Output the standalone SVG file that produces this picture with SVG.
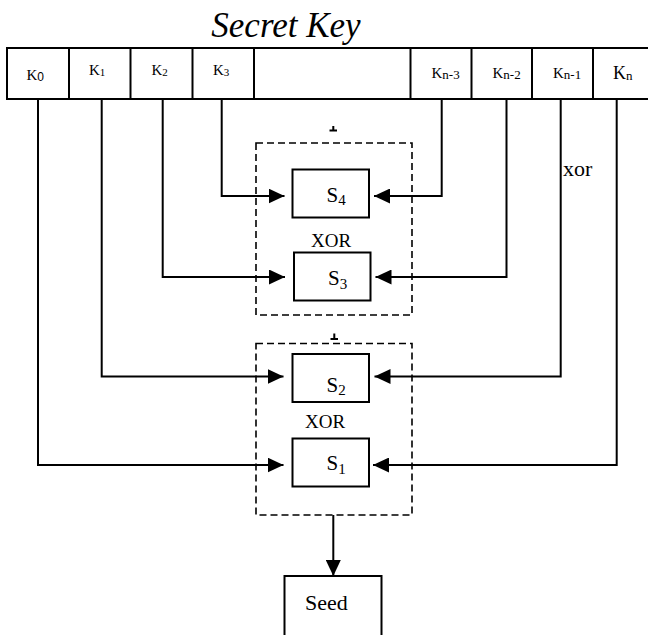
<svg xmlns="http://www.w3.org/2000/svg" width="648" height="635" viewBox="0 0 648 635">
  <style>
    text { font-family: "Liberation Serif", "DejaVu Serif", "Times New Roman", serif; fill: #000; }
    .box { fill: #fff; stroke: #000; stroke-width: 2; }
    .cell { fill: none; stroke: #000; stroke-width: 2; }
    .group { fill: none; stroke: #000; stroke-width: 1.6; stroke-dasharray: 7 4; }
    .wire { fill: none; stroke: #000; stroke-width: 2; }
    .k { font-size: 15px; }
    .sub { font-size: 11px; }
    .s { font-size: 21px; }
    .ssub { font-size: 15px; }
  </style>
  <defs>
    <marker id="arrow" markerUnits="userSpaceOnUse" markerWidth="17" markerHeight="15" refX="16" refY="7.5" orient="auto">
      <path d="M0,0 L16,7.5 L0,15 z" fill="#000"/>
    </marker>
  </defs>

  <rect width="648" height="635" fill="#fff"/>

  <!-- Title -->
  <text x="286" y="37" font-family="Liberation Serif, serif" font-size="35" font-style="italic" text-anchor="middle">Secret Key</text>

  <!-- Key register -->
  <g id="key-register">
    <rect class="cell" x="7" y="48" width="650" height="51"/>
    <line class="cell" x1="69" y1="48" x2="69" y2="99"/>
    <line class="cell" x1="130.5" y1="48" x2="130.5" y2="99"/>
    <line class="cell" x1="192.5" y1="48" x2="192.5" y2="99"/>
    <line class="cell" x1="254" y1="48" x2="254" y2="99"/>
    <line class="cell" x1="410.5" y1="48" x2="410.5" y2="99"/>
    <line class="cell" x1="471.5" y1="48" x2="471.5" y2="99"/>
    <line class="cell" x1="532" y1="48" x2="532" y2="99"/>
    <line class="cell" x1="593" y1="48" x2="593" y2="99"/>
  </g>
  <g id="k0"><text class="k" font-family="Liberation Serif, serif" x="26.5" y="80">K<tspan font-family="Liberation Sans, sans-serif" font-size="12" dy="1">0</tspan></text></g>
  <g id="k1"><text class="k" font-family="Liberation Serif, serif" x="89" y="74.5">K<tspan class="sub" dy="1.5">1</tspan></text></g>
  <g id="k2"><text class="k" font-family="Liberation Serif, serif" x="151.5" y="74.5">K<tspan class="sub" dy="1.5">2</tspan></text></g>
  <g id="k3"><text class="k" font-family="Liberation Serif, serif" x="213" y="74.5">K<tspan class="sub" dy="1.5">3</tspan></text></g>
  <g id="kn3"><text class="k" font-family="Liberation Serif, serif" x="431.5" y="77.5">K<tspan font-size="13" dy="1">n-3</tspan></text></g>
  <g id="kn2"><text class="k" font-family="Liberation Serif, serif" x="492.5" y="77.5">K<tspan font-size="13" dy="1">n-2</tspan></text></g>
  <g id="kn1"><text class="k" font-family="Liberation Serif, serif" x="553" y="77.5">K<tspan font-size="13" dy="1">n-1</tspan></text></g>
  <g id="kn"><text font-family="Liberation Serif, serif" font-size="18" x="613" y="79">K<tspan font-size="13" dy="1">n</tspan></text></g>

  <!-- XOR groupings -->
  <g id="xor-upper">
    <rect class="group" x="256" y="143" width="156" height="172"/>
    <path class="wire" d="M329.5,130.5 H337 M333.3,126 V130.5" stroke-width="1.4"/>
    <text font-family="Liberation Serif, serif" font-size="19" x="331" y="247" text-anchor="middle">XOR</text>
  </g>
  <g id="xor-lower">
    <rect class="group" x="256" y="343.5" width="156" height="171.5"/>
    <path class="wire" d="M330.5,339 H338 M334.3,333.5 V339" stroke-width="1.4"/>
    <text font-family="Liberation Serif, serif" font-size="19" x="325" y="428" text-anchor="middle">XOR</text>
  </g>

  <!-- Sub-key boxes -->
  <g id="s4">
    <rect class="box" x="292.5" y="169.5" width="76.5" height="48"/>
    <text class="s" font-family="Liberation Serif, serif" x="326.5" y="201.5">S<tspan class="ssub" dy="3.5">4</tspan></text>
  </g>
  <g id="s3">
    <rect class="box" x="294" y="252.5" width="76.5" height="48"/>
    <text class="s" font-family="Liberation Serif, serif" x="328" y="285">S<tspan class="ssub" dy="3.5">3</tspan></text>
  </g>
  <g id="s2">
    <rect class="box" x="292.5" y="354" width="76.5" height="48"/>
    <text class="s" font-family="Liberation Serif, serif" x="326.5" y="391.5">S<tspan class="ssub" dy="3.5">2</tspan></text>
  </g>
  <g id="s1">
    <rect class="box" x="292.5" y="438.5" width="76.5" height="48"/>
    <text class="s" font-family="Liberation Serif, serif" x="326.5" y="470">S<tspan class="ssub" dy="3.5">1</tspan></text>
  </g>

  <!-- Output -->
  <g id="seed">
    <rect class="box" x="284.5" y="576" width="97" height="70"/>
    <text font-family="Liberation Serif, serif" font-size="22" x="305" y="609.5">Seed</text>
  </g>

  <text font-family="Liberation Serif, serif" font-size="22" x="563" y="176">xor</text>

  <!-- Connectors -->
  <g id="connectors">
    <path class="wire" d="M38,99 V465 H283.5" marker-end="url(#arrow)"/>
    <path class="wire" d="M101.7,99 V376.5 H283.5" marker-end="url(#arrow)"/>
    <path class="wire" d="M162.7,99 V277 H285" marker-end="url(#arrow)"/>
    <path class="wire" d="M221.7,99 V196 H284.5" marker-end="url(#arrow)"/>
    <path class="wire" d="M441.7,99 V196 H374" marker-end="url(#arrow)"/>
    <path class="wire" d="M506.5,99 V277 H375.5" marker-end="url(#arrow)"/>
    <path class="wire" d="M560.7,99 V376.5 H374.5" marker-end="url(#arrow)"/>
    <path class="wire" d="M616.7,99 V465 H373" marker-end="url(#arrow)"/>
    <path class="wire" d="M333.3,515 V576" marker-end="url(#arrow)"/>
  </g>
</svg>
